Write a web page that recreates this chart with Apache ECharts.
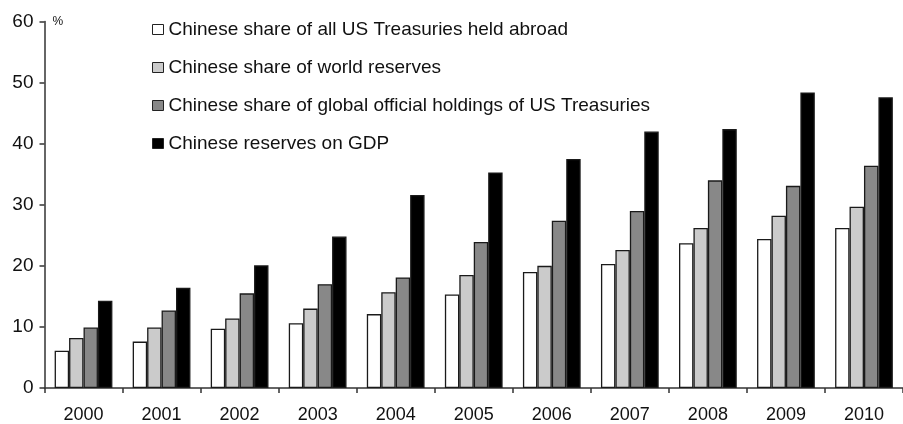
<!DOCTYPE html>
<html>
<head>
<meta charset="utf-8">
<script src="https://cdn.jsdelivr.net/npm/echarts@6/dist/echarts.min.js"></script>
<style>
html,body{margin:0;padding:0;background:#fff;}
#chart{width:903px;height:424px;}
</style>
</head>
<body>
<div id="chart"></div>
<script>
const years = ['2000','2001','2002','2003','2004','2005','2006','2007','2008','2009','2010'];
const seriesNames = [
  'Chinese share of all US Treasuries held abroad',
  'Chinese share of world reserves',
  'Chinese share of global official holdings of US Treasuries',
  'Chinese reserves on GDP'
];
const shareUSTreasuriesAbroad = [6.1, 7.6, 9.7, 10.6, 12.1, 15.3, 19.0, 20.3, 23.7, 24.4, 26.2];
const shareWorldReserves      = [8.2, 9.9, 11.4, 13.0, 15.7, 18.5, 20.0, 22.6, 26.2, 28.2, 29.7];
const shareOfficialHoldings   = [9.9, 12.7, 15.5, 17.0, 18.1, 23.9, 27.4, 29.0, 34.0, 33.1, 36.4];
const reservesOnGDP           = [14.3, 16.4, 20.1, 24.8, 31.6, 35.3, 37.5, 42.0, 42.4, 48.4, 47.6];
const yTicks = [0, 10, 20, 30, 40, 50, 60];

const colors = ['#ffffff', '#cbcbcb', '#888888', '#000000'];
const dataSets = [shareUSTreasuriesAbroad, shareWorldReserves, shareOfficialHoldings, reservesOnGDP];
const font = '"Liberation Sans", Arial, sans-serif';

const chart = echarts.init(document.getElementById('chart'), null, {renderer: 'canvas'});
chart.setOption({
  animation: false,
  backgroundColor: '#ffffff',
  grid: {left: 44.5, right: -7, top: 21.6, bottom: 34, containLabel: false},
  legend: {
    orient: 'vertical',
    left: 147,
    top: 15,
    itemWidth: 11,
    itemHeight: 10,
    itemGap: 19,
    textStyle: {fontFamily: font, fontSize: 19, color: '#111'},
    data: seriesNames.map((n, i) => ({
      name: n,
      icon: 'rect',
      itemStyle: {color: colors[i], borderColor: '#222', borderWidth: 1}
    }))
  },
  xAxis: {
    type: 'category',
    data: years,
    axisLine: {lineStyle: {color: '#333', width: 1.5}},
    axisTick: {show: true, length: 5, interval: 0, lineStyle: {color: '#333', width: 1.5}},
    axisLabel: {fontFamily: font, fontSize: 18, color: '#111', margin: 18, interval: 0},
    splitLine: {show: false}
  },
  yAxis: {
    type: 'value',
    min: yTicks[0],
    max: yTicks[yTicks.length - 1],
    interval: 10,
    name: '%',
    nameLocation: 'end',
    nameGap: 0,
    nameTextStyle: {fontFamily: font, fontSize: 12, color: '#111', align: 'left', verticalAlign: 'bottom', padding: [0, 0, -6, 8]},
    axisLine: {show: true, lineStyle: {color: '#333', width: 1.5}},
    axisTick: {show: true, length: 5, lineStyle: {color: '#333', width: 1.5}},
    axisLabel: {fontFamily: font, fontSize: 19, color: '#111', margin: 11},
    splitLine: {show: false}
  },
  series: dataSets.map((d, i) => ({
    name: seriesNames[i],
    type: 'bar',
    data: d,
    barGap: '0%',
    barCategoryGap: '26%',
    itemStyle: {color: colors[i], borderColor: '#1a1a1a', borderWidth: 1.3}
  }))
});
</script>
</body>
</html>
